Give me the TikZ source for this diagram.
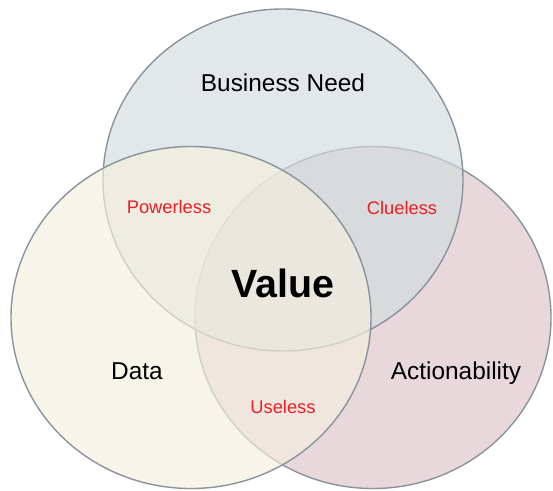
\documentclass[tikz,border=0pt]{standalone}
\usepackage{fontspec}
\setmainfont{Liberation Sans}

\definecolor{needfill}{RGB}{210,220,221}
\definecolor{datafill}{RGB}{243,240,223}
\definecolor{actfill}{RGB}{220,195,201}
\definecolor{rimgray}{RGB}{138,147,156}
\definecolor{gapred}{RGB}{238,28,36}

\begin{document}
\begin{tikzpicture}[x=1pt,y=1pt,
  rim/.style={draw=rimgray,line width=1.4pt,fill opacity=0.65},
  setname/.style={anchor=base,font=\fontsize{24.4}{28}\selectfont},
  gapname/.style={anchor=base,text=gapred,font=\fontsize{18.3}{22}\selectfont},
  every node/.append style={inner sep=0pt}]
\useasboundingbox (0,0) rectangle (553,-490);
% the three sets; each fill washes over the rims drawn before it
\draw [rim,fill=actfill] (373,-317.5) ellipse [x radius=178pt,y radius=171pt];
\draw [rim,fill=needfill] (283,-180) ellipse [x radius=180pt,y radius=171pt];
\draw [rim,fill=datafill] (191,-317.5) ellipse [x radius=180pt,y radius=171pt];
% set names
\node [setname] (need) at (283,-91.7) {Business Need};
\node [setname] (data) at (137,-379.7) {Data};
\node [setname] (act) at (456,-379.7) {Actionability};
% pairwise overlaps
\node [gapname] (powerless) at (169,-213.6) {Powerless};
\node [gapname] (clueless) at (402,-214.6) {Clueless};
\node [gapname] (useless) at (283,-413.6) {Useless};
% all three
\node [anchor=base,font=\bfseries\fontsize{39.4}{44}\selectfont] (value) at (283,-297) {Value};
\end{tikzpicture}
\end{document}
